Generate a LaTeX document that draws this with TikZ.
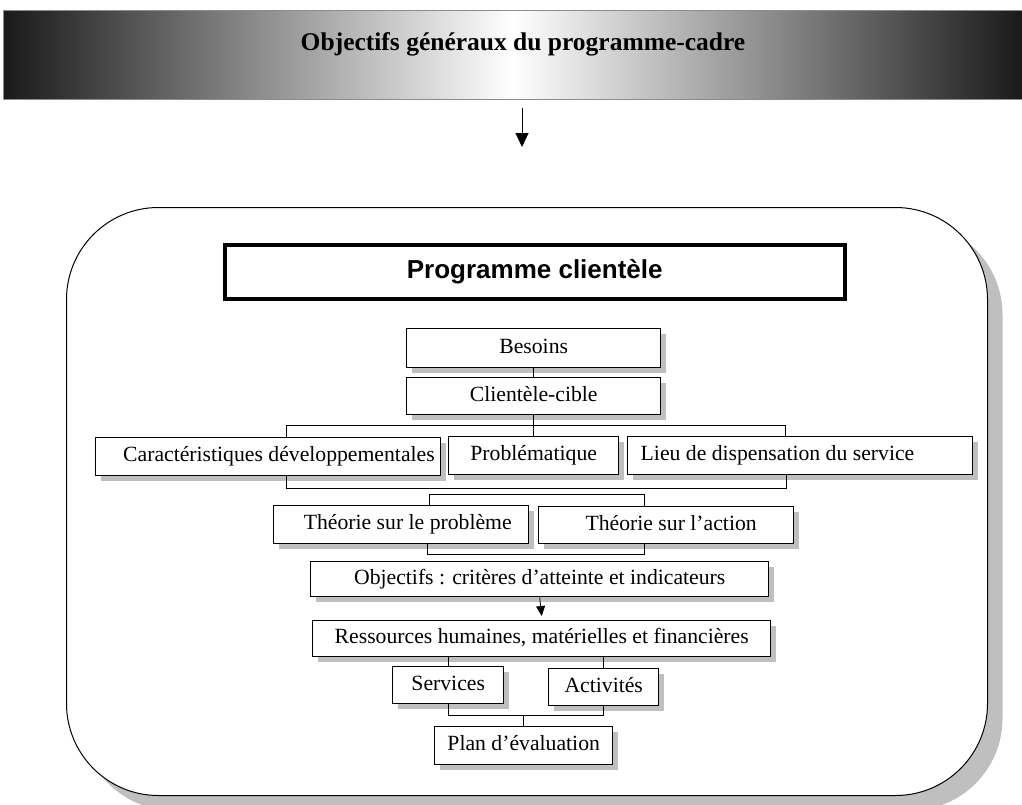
\documentclass[tikz,border=0pt]{standalone}
\usepackage{fontspec}
\setmainfont{Liberation Serif}
\newfontfamily\arialfont{Liberation Sans}
\usetikzlibrary{shadows,arrows.meta,calc}

\tikzset{
  boxtext/.style={font=\fontsize{21.7}{25}\selectfont, text height=15pt, text depth=5pt},
  stepbox/.style={draw, line width=1.4pt, fill=white, anchor=north west,
    inner sep=0pt, boxtext,
    drop shadow={shadow xshift=5pt, shadow yshift=-5pt, fill=black!25, opacity=1}},
  link/.style={draw, line width=0.8pt},
  headarrow/.style={line width=1pt, -{Triangle[width=13pt,length=14pt]}},
  smallarrow/.style={line width=0.8pt, -{Triangle[width=9pt,length=10pt]}},
}

\begin{document}
\begin{tikzpicture}[x=1pt,y=-1pt]
\useasboundingbox (0,0) rectangle (1022,804);
\clip (0,0) rectangle (1022,804);

% shaded title band
\node[anchor=north west, minimum width=1019pt, minimum height=89pt, inner sep=0pt,
  draw=black!45, line width=1pt,
  left color=black!90, right color=black!90, middle color=white] (banner) at (3,10) {};
\node[font=\fontsize{25.5}{30}\selectfont\bfseries, inner sep=0pt, anchor=base] (bannertext) at (523,50)
  {Objectifs généraux du programme-cadre};

\coordinate (a1) at (522,108);
\coordinate (a2) at (522,147);
\draw[headarrow] (a1) -- (a2);

% large rounded frame
\node[anchor=north west, minimum width=921pt, minimum height=588pt, inner sep=0pt,
  draw, line width=1pt, fill=white, rounded corners=92pt,
  drop shadow={shadow xshift=15pt, shadow yshift=-15pt, fill=black!25, opacity=1}]
  (frame) at (66,207) {};

\node[anchor=north west, minimum width=620pt, minimum height=54pt, inner sep=0pt,
  draw, line width=3.5pt, fill=white,
  font=\arialfont\fontsize{26}{30}\selectfont\bfseries] (prog) at (223,243)
  {Programme clientèle};

% boxes
\node[stepbox, minimum width=254pt, minimum height=39pt] (besoins) at (406,328) {Besoins};
\node[stepbox, minimum width=254pt, minimum height=37pt] (cible) at (406,377) {Clientèle-cible};
\node[stepbox, minimum width=345pt, minimum height=38pt, text width=333pt, align=flush right, inner xsep=6pt]
  (carac) at (95,437) {Caractéristiques développementales};
\node[stepbox, minimum width=170pt, minimum height=38pt] (prob) at (448,436) {Problématique};
\node[stepbox, minimum width=345pt, minimum height=38pt, text width=319pt, align=flush left, inner xsep=13pt]
  (lieu) at (627,436) {Lieu de dispensation du service};
\node[stepbox, minimum width=255pt, minimum height=38pt, text width=221pt, align=flush right, inner xsep=17pt]
  (tp) at (273,505) {Théorie sur le problème};
\node[stepbox, minimum width=255pt, minimum height=37pt, text width=181pt, align=flush right, inner xsep=37pt]
  (ta) at (538,506) {Théorie sur l’action};
\node[stepbox, minimum width=458pt, minimum height=35pt] (obj) at (310,561) {Objectifs : critères d’atteinte et indicateurs};
\node[stepbox, minimum width=458pt, minimum height=36pt] (res) at (312,620) {Ressources humaines, matérielles et financières};
\node[stepbox, minimum width=111pt, minimum height=37pt] (serv) at (392,666) {Services};
\node[stepbox, minimum width=110pt, minimum height=37pt] (act) at (548,668) {Activités};
\node[stepbox, minimum width=178pt, minimum height=38pt] (plan) at (434,726) {Plan d’évaluation};

% connectors
\path[link] (besoins.south) -- (cible.north);
\path[link] (cible.south) -- (prob.north);
\coordinate (m1) at ($(cible.south)!0.5!(prob.north)$);
\path[link] ([xshift=18pt]carac.north) |- (m1) -| ([xshift=-15pt]lieu.north);
\path[link] ([xshift=18pt]carac.south) -- ++(0,12) -| ([xshift=-14pt]lieu.south);
\path[link] ([xshift=28pt]tp.north) -- ++(0,-11) -| ([xshift=-21.5pt]ta.north);
\path[link] ([xshift=26pt]tp.south) -- ++(0,10) -| ([xshift=-22pt]ta.south);
\draw[smallarrow] (obj.south) -- ([yshift=4pt]res.north);
\path[link] (serv.north |- res.south) -- (serv.north);
\path[link] (act.north |- res.south) -- (act.north);
\coordinate (m2) at ([yshift=11pt]plan.north);
\path[link] (serv.south) |- (m2) -| (act.south);
\path[link] (m2) -- (plan.north);
\end{tikzpicture}
\end{document}
